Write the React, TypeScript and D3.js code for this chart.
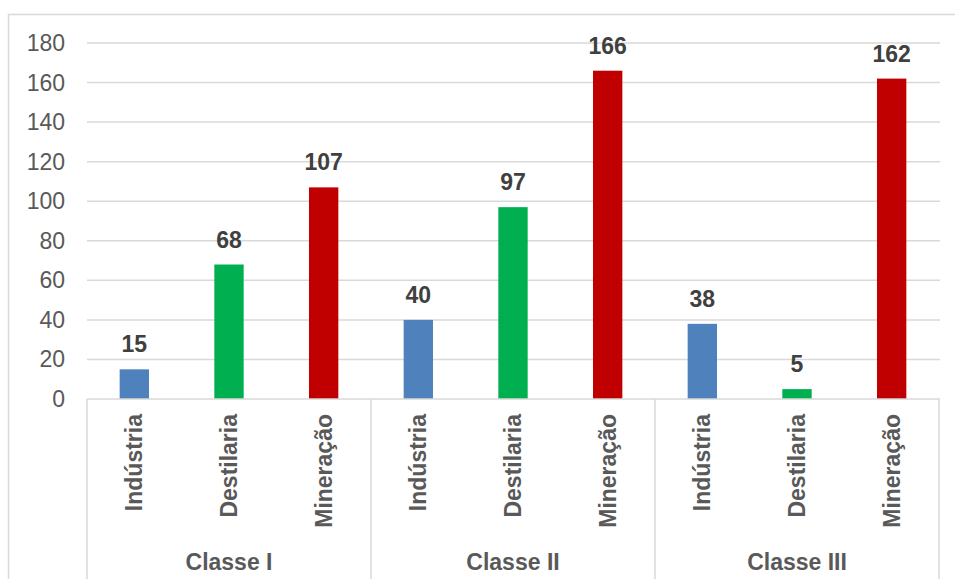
import React from "react";
import * as d3 from "d3";

const groups = ["Classe I", "Classe II", "Classe III"];
const sectors = ["Indústria", "Destilaria", "Mineração"];
const industria = [15, 40, 38];
const destilaria = [68, 97, 5];
const mineracao = [107, 166, 162];
const yTicks = [0, 20, 40, 60, 80, 100, 120, 140, 160, 180];
const sectorColors = ["#4f81bd", "#00b050", "#c00000"];

const W = 955;
const H = 579;
const left = 87;
const right = 939;
const y0 = 399;
const yTop = 43;
const font = "Arial, 'Liberation Sans', Helvetica, sans-serif";

export default function App() {
  const series = [industria, destilaria, mineracao];
  const x = d3.scaleBand<string>().domain(groups).range([left, right]).padding(0);
  const xi = d3.scaleBand<string>().domain(sectors).range([0, x.bandwidth()]).padding(0);
  const y = d3.scaleLinear().domain([0, 180]).range([y0, yTop]);
  const barW = xi.bandwidth() * 0.31;
  const grid = "#d9d9d9";

  return (
    <svg
      width={W}
      height={H}
      style={{ position: "absolute", left: 0, top: 0, background: "#fff" }}
      fontFamily={font}
    >
      <rect x={8.5} y={14.5} width={W + 20} height={H + 20} fill="#fff" stroke={grid} strokeWidth={1.5} />
      {yTicks.map((t) => (
        <g key={t}>
          {t > 0 && (
            <line x1={left} x2={right + 1} y1={y(t)} y2={y(t)} stroke={grid} strokeWidth={1.5} />
          )}
          <text x={65} y={y(t)} dy="0.35em" textAnchor="end" fontSize={23} fill="#595959">
            {t}
          </text>
        </g>
      ))}
      {groups.map((g, gi) => (
        <g key={g}>
          {sectors.map((s, si) => {
            const v = series[si][gi];
            const cx = (x(g) as number) + (xi(s) as number) + xi.bandwidth() / 2;
            return (
              <g key={s}>
                <rect x={cx - barW / 2} y={y(v)} width={barW} height={y0 - y(v)} fill={sectorColors[si]} />
                <text x={cx} y={y(v) - 17} textAnchor="middle" fontSize={23} fontWeight="bold" fill="#404040">
                  {v}
                </text>
                <text
                  transform={`translate(${cx + 8},414) rotate(-90)`}
                  textAnchor="end"
                  fontSize={23}
                  fontWeight="bold"
                  fill="#595959"
                >
                  {s}
                </text>
              </g>
            );
          })}
          <text
            x={(x(g) as number) + x.bandwidth() / 2}
            y={570}
            textAnchor="middle"
            fontSize={23}
            fontWeight="bold"
            fill="#595959"
          >
            {g}
          </text>
        </g>
      ))}
      <line x1={left} x2={right + 1} y1={y0} y2={y0} stroke={grid} strokeWidth={1.5} />
      {[...groups.map((g) => x(g) as number), right].map((sx, i) => (
        <line key={i} x1={sx} x2={sx} y1={y0} y2={H} stroke={grid} strokeWidth={1.5} />
      ))}
    </svg>
  );
}
